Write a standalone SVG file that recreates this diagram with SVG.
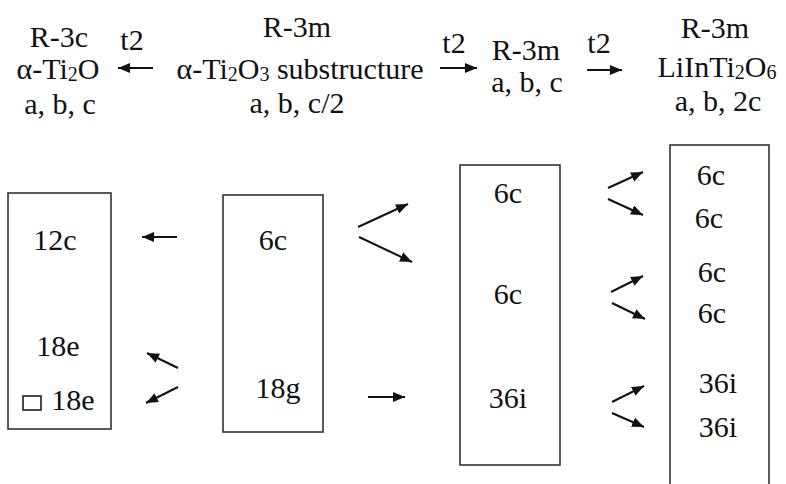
<svg xmlns="http://www.w3.org/2000/svg" width="786" height="484" viewBox="0 0 786 484">
<style>
text{font-size:30px;fill:#111;text-anchor:middle;}
.sub{font-size:20px;}
.box{fill:none;stroke:#333;stroke-width:1.6;}
.arr{fill:none;stroke:#111;stroke-width:2;marker-end:url(#ah);}
</style>
<defs>
<marker id="ah" markerUnits="userSpaceOnUse" markerWidth="14" markerHeight="12" refX="12" refY="5" orient="auto">
<path d="M0,0 L12,5 L0,10 Z" fill="#111"/>
</marker>
</defs>
<rect width="786" height="484" fill="#fff"/>
<g font-family="Liberation Serif, Times New Roman, serif">
<g id="title-r3c">
<text x="59" y="47">R-3c</text>
<text x="58" y="79">α-Ti<tspan class="sub" dy="2">2</tspan><tspan dy="-2">O</tspan></text>
<text x="60" y="114">a, b, c</text>
</g>
<g id="title-sub">
<text x="297" y="37">R-3m</text>
<text x="300" y="79">α-Ti<tspan class="sub" dy="2">2</tspan><tspan dy="-2">O</tspan><tspan class="sub" dy="2">3</tspan><tspan dy="-2"> substructure</tspan></text>
<text x="297" y="113">a, b, c/2</text>
</g>
<g id="title-r3m">
<text x="526" y="60">R-3m</text>
<text x="527" y="92">a, b, c</text>
</g>
<g id="title-liin">
<text x="715" y="38">R-3m</text>
<text x="717" y="77">LiInTi<tspan class="sub" dy="2">2</tspan><tspan dy="-2">O</tspan><tspan class="sub" dy="2">6</tspan></text>
<text x="718" y="111">a, b, 2c</text>
</g>
<g id="box1">
<rect class="box" x="8" y="193" width="103" height="236"/>
<text x="55" y="250">12c</text>
<text x="58" y="356">18e</text>
<rect x="23" y="396" width="18" height="14" fill="none" stroke="#111" stroke-width="1.5"/>
<text x="73" y="410">18e</text>
</g>
<g id="box2">
<rect class="box" x="223" y="195" width="100" height="237"/>
<text x="273" y="250">6c</text>
<text x="278" y="398">18g</text>
</g>
<g id="box3">
<rect class="box" x="460" y="165" width="100" height="300"/>
<text x="508" y="203">6c</text>
<text x="508" y="304">6c</text>
<text x="508" y="408">36i</text>
</g>
<g id="box4">
<rect class="box" x="670" y="145" width="99" height="350"/>
<text x="711" y="185">6c</text>
<text x="709" y="228">6c</text>
<text x="712" y="282">6c</text>
<text x="712" y="323">6c</text>
<text x="718" y="393">36i</text>
<text x="718" y="437">36i</text>
</g>
<g id="connectors">
<text x="132" y="50">t2</text>
<text x="454" y="53">t2</text>
<text x="599" y="53">t2</text>
<line class="arr" x1="153" y1="68" x2="118" y2="68"/>
<line class="arr" x1="440" y1="68" x2="477" y2="68"/>
<line class="arr" x1="587" y1="70" x2="622" y2="70"/>
<line class="arr" x1="177" y1="237" x2="142" y2="237"/>
<line class="arr" x1="178" y1="368" x2="147" y2="353"/>
<line class="arr" x1="178" y1="387" x2="146" y2="403"/>
<line class="arr" x1="358" y1="227" x2="408" y2="204"/>
<line class="arr" x1="359" y1="237" x2="412" y2="262"/>
<line class="arr" x1="368" y1="397" x2="405" y2="397"/>
<line class="arr" x1="608" y1="188" x2="643" y2="172"/>
<line class="arr" x1="608" y1="199" x2="643" y2="215"/>
<line class="arr" x1="611" y1="292" x2="643" y2="276"/>
<line class="arr" x1="612" y1="303" x2="645" y2="319"/>
<line class="arr" x1="612" y1="402" x2="644" y2="386"/>
<line class="arr" x1="612" y1="413" x2="644" y2="427"/>
</g>
</g>
</svg>
